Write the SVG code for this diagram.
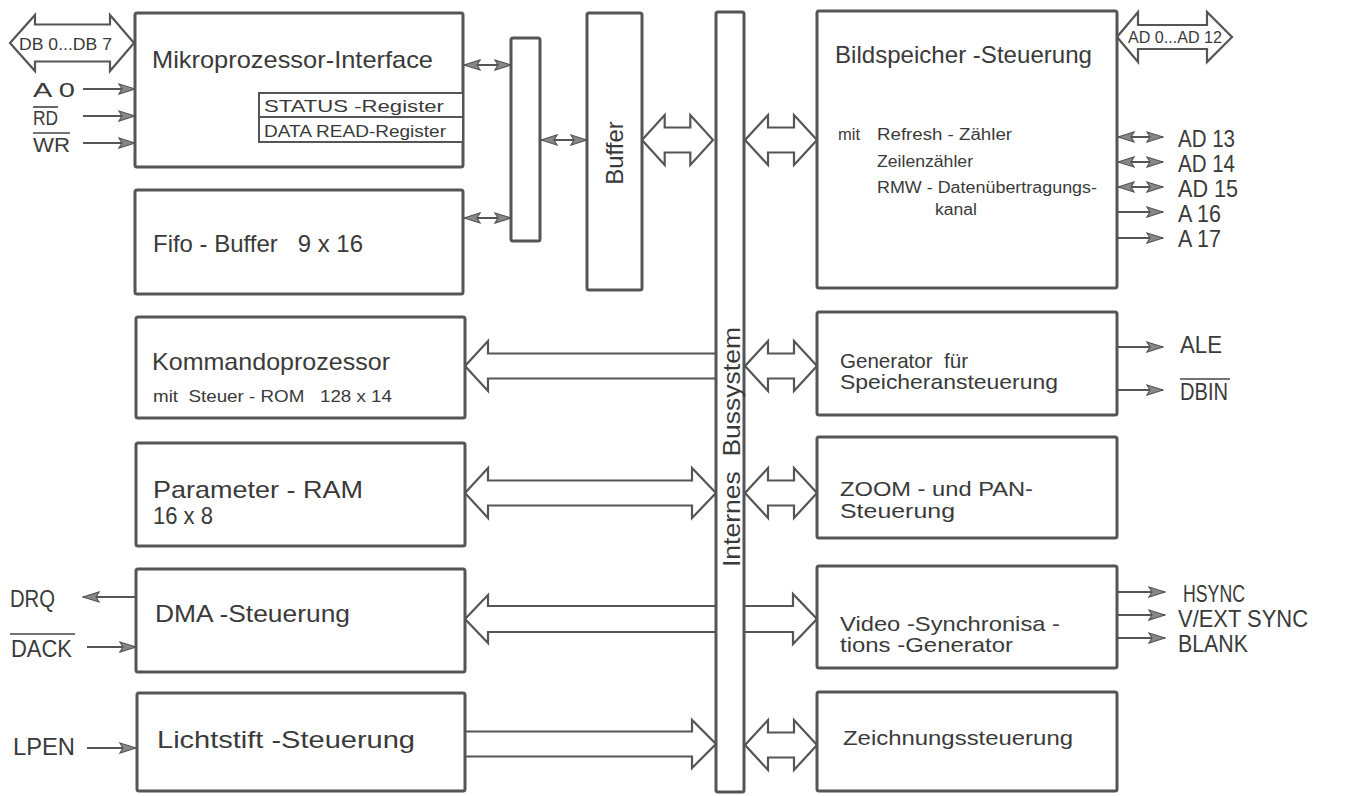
<svg xmlns="http://www.w3.org/2000/svg" xmlns:xlink="http://www.w3.org/1999/xlink" width="1372" height="796" viewBox="0 0 1372 796">
<style>
.box{fill:#fff;stroke:#555;stroke-width:3}
.thin{fill:#fff;stroke:#555;stroke-width:2}
.bus{fill:#fff;stroke:#555;stroke-width:2.2;stroke-linejoin:miter}
.ln{fill:none;stroke:#555;stroke-width:2}
.ov{fill:none;stroke:#444;stroke-width:1.6}
.t{font-family:"Liberation Sans",Arial,sans-serif;fill:#3a3a3a}
.L{font-size:24px}
.M{font-size:21px}
.S{font-size:17px}
.XS{font-size:16px}
</style>
<defs>
<marker id="ah" markerUnits="userSpaceOnUse" markerWidth="18" markerHeight="12" refX="17" refY="6" orient="auto-start-reverse">
<path d="M1,1 L17,6 L1,11 L4,6 Z" fill="#888" stroke="#555" stroke-width="1.2"/>
</marker>
<path id="rdbl" d="M0,0 L23,-25 L23,-12.5 L49,-12.5 L49,-25 L72,0 L49,25 L49,12.5 L23,12.5 L23,25 Z"/>
</defs>
<rect width="1372" height="796" fill="#fff"/>

<g id="connectors">
<path class="bus" d="M10,43 L35,15 L35,24.5 L110,24.5 L110,15 L134,43 L110,71 L110,61.5 L35,61.5 L35,71 Z"/>
<path class="bus" d="M1117,37 L1138,12 L1138,25 L1207,25 L1207,12 L1232,37 L1207,62 L1207,49 L1138,49 L1138,62 Z"/>
<line class="ln" x1="83" y1="89" x2="135" y2="89" marker-end="url(#ah)"/>
<line class="ln" x1="83" y1="116" x2="135" y2="116" marker-end="url(#ah)"/>
<line class="ln" x1="83" y1="143" x2="135" y2="143" marker-end="url(#ah)"/>
<line class="ln" x1="464" y1="65" x2="511" y2="65" marker-start="url(#ah)" marker-end="url(#ah)"/>
<line class="ln" x1="464" y1="218" x2="511" y2="218" marker-start="url(#ah)" marker-end="url(#ah)"/>
<line class="ln" x1="541" y1="140" x2="587" y2="140" marker-start="url(#ah)" marker-end="url(#ah)"/>
<use xlink:href="#rdbl" class="bus" transform="translate(642,140) scale(0.986,1)"/>
<use xlink:href="#rdbl" class="bus" transform="translate(745,140)"/>
<use xlink:href="#rdbl" class="bus" transform="translate(745,366)"/>
<use xlink:href="#rdbl" class="bus" transform="translate(745,493)"/>
<use xlink:href="#rdbl" class="bus" transform="translate(745,745)"/>
<path class="bus" d="M716,353.5 L488,353.5 L488,341 L465,366 L488,391 L488,378.5 L716,378.5"/>
<path class="bus" d="M465,493 L488,468 L488,480.5 L692,480.5 L692,468 L716,493 L692,518 L692,505.5 L488,505.5 L488,518 Z"/>
<path class="bus" d="M716,606 L488,606 L488,595 L465,619 L488,643 L488,632 L716,632"/>
<path class="bus" d="M744,606 L793,606 L793,594 L817,619 L793,644 L793,632 L744,632"/>
<path class="bus" d="M465,731.5 L692,731.5 L692,720 L716,744 L692,768 L692,756.5 L465,756.5"/>
<line class="ln" x1="1118" y1="137" x2="1163" y2="137" marker-start="url(#ah)" marker-end="url(#ah)"/>
<line class="ln" x1="1118" y1="162" x2="1163" y2="162" marker-start="url(#ah)" marker-end="url(#ah)"/>
<line class="ln" x1="1118" y1="187" x2="1163" y2="187" marker-start="url(#ah)" marker-end="url(#ah)"/>
<line class="ln" x1="1117" y1="212" x2="1163" y2="212" marker-end="url(#ah)"/>
<line class="ln" x1="1117" y1="238" x2="1163" y2="238" marker-end="url(#ah)"/>
<line class="ln" x1="1117" y1="347" x2="1163" y2="347" marker-end="url(#ah)"/>
<line class="ln" x1="1117" y1="390" x2="1163" y2="390" marker-end="url(#ah)"/>
<line class="ln" x1="1117" y1="592" x2="1165" y2="592" marker-end="url(#ah)"/>
<line class="ln" x1="1117" y1="615" x2="1165" y2="615" marker-end="url(#ah)"/>
<line class="ln" x1="1117" y1="638" x2="1165" y2="638" marker-end="url(#ah)"/>
<line class="ln" x1="136" y1="597" x2="83" y2="597" marker-end="url(#ah)"/>
<line class="ln" x1="87" y1="647" x2="136" y2="647" marker-end="url(#ah)"/>
<line class="ln" x1="87" y1="748" x2="136" y2="748" marker-end="url(#ah)"/>
</g>

<g id="mpu">
<rect class="box" x="135" y="13" width="328" height="154" rx="2"/>
<text class="t L" x="152" y="68" textLength="281" lengthAdjust="spacingAndGlyphs">Mikroprozessor-Interface</text>
<rect class="thin" x="259" y="93" width="204" height="24"/>
<rect class="thin" x="259" y="117" width="204" height="25"/>
<text class="t S" x="264" y="112" textLength="180" lengthAdjust="spacingAndGlyphs">STATUS -Register</text>
<text class="t S" x="264" y="137" textLength="182" lengthAdjust="spacingAndGlyphs">DATA READ-Register</text>
</g>

<g id="db-label">
<text class="t XS" x="19" y="50" textLength="93" lengthAdjust="spacingAndGlyphs">DB 0...DB 7</text>
</g>
<g id="cpu-inputs">
<text class="t M" x="33" y="97" textLength="42" lengthAdjust="spacingAndGlyphs">A 0</text>
<text class="t M" x="33" y="125" textLength="25" lengthAdjust="spacingAndGlyphs">RD</text>
<line class="ov" x1="33" y1="107" x2="58" y2="107"/>
<text class="t M" x="33" y="152" textLength="37" lengthAdjust="spacingAndGlyphs">WR</text>
<line class="ov" x1="33" y1="133" x2="70" y2="133"/>
</g>

<g id="fifo">
<rect class="box" x="135" y="190" width="328" height="104" rx="2"/>
<text class="t L" x="153" y="252" textLength="210" lengthAdjust="spacingAndGlyphs" xml:space="preserve">Fifo - Buffer   9 x 16</text>
</g>

<g id="mux">
<rect class="box" x="511" y="38" width="29" height="203" rx="2"/>
</g>

<g id="buffer">
<rect class="box" x="587" y="13" width="55" height="277" rx="2"/>
<text class="t L" transform="translate(614,153) rotate(-90)" text-anchor="middle" dominant-baseline="central">Buffer</text>
</g>

<g id="internal-bus">
<rect class="box" x="716" y="12" width="28" height="780" rx="2"/>
<text class="t L" transform="translate(731,447) rotate(-90)" text-anchor="middle" dominant-baseline="central" textLength="240" lengthAdjust="spacingAndGlyphs" xml:space="preserve">Internes  Bussystem</text>
</g>

<g id="kommando">
<rect class="box" x="136" y="317" width="329" height="101" rx="2"/>
<text class="t L" x="152" y="370" textLength="238" lengthAdjust="spacingAndGlyphs">Kommandoprozessor</text>
<text class="t S" x="153" y="402" textLength="239" lengthAdjust="spacingAndGlyphs" xml:space="preserve">mit  Steuer - ROM   128 x 14</text>
</g>

<g id="param-ram">
<rect class="box" x="136" y="443" width="329" height="103" rx="2"/>
<text class="t L" x="153" y="498" textLength="210" lengthAdjust="spacingAndGlyphs">Parameter - RAM</text>
<text class="t L" x="153" y="524" textLength="60" lengthAdjust="spacingAndGlyphs">16 x 8</text>
</g>

<g id="dma">
<rect class="box" x="136" y="569" width="329" height="103" rx="2"/>
<text class="t L" x="155" y="622" textLength="195" lengthAdjust="spacingAndGlyphs">DMA -Steuerung</text>
<text class="t L" x="10" y="607" textLength="45" lengthAdjust="spacingAndGlyphs">DRQ</text>
<text class="t L" x="11" y="657" textLength="61" lengthAdjust="spacingAndGlyphs">DACK</text>
<line class="ov" x1="10" y1="634" x2="75" y2="634"/>
</g>

<g id="lichtstift">
<rect class="box" x="137" y="693" width="328" height="98" rx="2"/>
<text class="t L" x="157" y="748" textLength="258" lengthAdjust="spacingAndGlyphs">Lichtstift -Steuerung</text>
<text class="t L" x="13" y="755" textLength="62" lengthAdjust="spacingAndGlyphs">LPEN</text>
</g>

<g id="bildspeicher">
<rect class="box" x="817" y="11" width="300" height="277" rx="2"/>
<text class="t L" x="835" y="63" textLength="257" lengthAdjust="spacingAndGlyphs">Bildspeicher -Steuerung</text>
<text class="t XS" x="838" y="140" textLength="22" lengthAdjust="spacingAndGlyphs">mit</text>
<text class="t XS" x="877" y="140" textLength="135" lengthAdjust="spacingAndGlyphs">Refresh - Zähler</text>
<text class="t XS" x="877" y="167" textLength="96" lengthAdjust="spacingAndGlyphs">Zeilenzähler</text>
<text class="t XS" x="877" y="193" textLength="220" lengthAdjust="spacingAndGlyphs">RMW - Datenübertragungs-</text>
<text class="t XS" x="935" y="215" textLength="42" lengthAdjust="spacingAndGlyphs">kanal</text>
<text class="t XS" x="1128" y="43" textLength="94" lengthAdjust="spacingAndGlyphs">AD 0...AD 12</text>
<text class="t L" x="1178" y="147" textLength="57" lengthAdjust="spacingAndGlyphs">AD 13</text>
<text class="t L" x="1178" y="172" textLength="57" lengthAdjust="spacingAndGlyphs">AD 14</text>
<text class="t L" x="1178" y="197" textLength="60" lengthAdjust="spacingAndGlyphs">AD 15</text>
<text class="t L" x="1178" y="222" textLength="43" lengthAdjust="spacingAndGlyphs">A 16</text>
<text class="t L" x="1178" y="247" textLength="43" lengthAdjust="spacingAndGlyphs">A 17</text>
</g>

<g id="generator">
<rect class="box" x="817" y="312" width="300" height="103" rx="2"/>
<text class="t M" x="840" y="368" textLength="128" lengthAdjust="spacingAndGlyphs" xml:space="preserve">Generator  für</text>
<text class="t M" x="840" y="389" textLength="218" lengthAdjust="spacingAndGlyphs">Speicheransteuerung</text>
<text class="t L" x="1180" y="353" textLength="42" lengthAdjust="spacingAndGlyphs">ALE</text>
<text class="t L" x="1180" y="400" textLength="48" lengthAdjust="spacingAndGlyphs">DBIN</text>
<line class="ov" x1="1180" y1="379" x2="1230" y2="379"/>
</g>

<g id="zoom-pan">
<rect class="box" x="817" y="437" width="300" height="101" rx="2"/>
<text class="t M" x="840" y="496" textLength="193" lengthAdjust="spacingAndGlyphs">ZOOM - und PAN-</text>
<text class="t M" x="840" y="518" textLength="115" lengthAdjust="spacingAndGlyphs">Steuerung</text>
</g>

<g id="video-sync">
<rect class="box" x="817" y="566" width="300" height="102" rx="2"/>
<text class="t M" x="840" y="631" textLength="220" lengthAdjust="spacingAndGlyphs">Video -Synchronisa -</text>
<text class="t M" x="840" y="652" textLength="173" lengthAdjust="spacingAndGlyphs">tions -Generator</text>
<text class="t L" x="1183" y="602" textLength="62" lengthAdjust="spacingAndGlyphs">HSYNC</text>
<text class="t L" x="1178" y="627" textLength="130" lengthAdjust="spacingAndGlyphs">V/EXT SYNC</text>
<text class="t L" x="1178" y="652" textLength="70" lengthAdjust="spacingAndGlyphs">BLANK</text>
</g>

<g id="zeichnung">
<rect class="box" x="817" y="692" width="300" height="99" rx="2"/>
<text class="t M" x="843" y="745" textLength="230" lengthAdjust="spacingAndGlyphs">Zeichnungssteuerung</text>
</g>
</svg>
